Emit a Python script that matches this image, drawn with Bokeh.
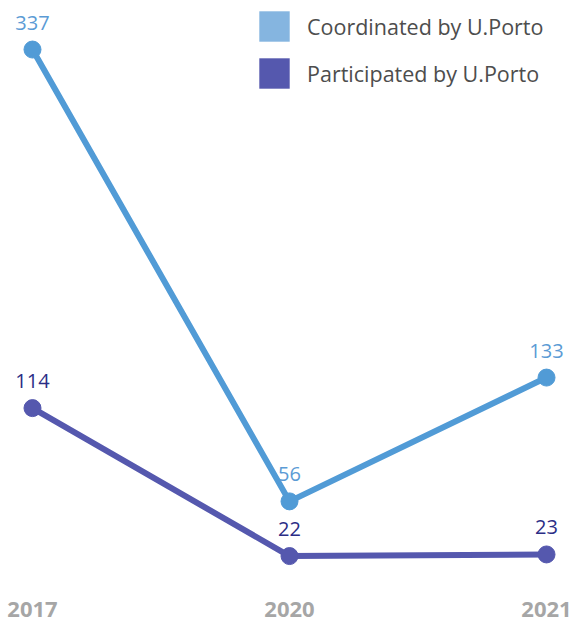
from bokeh.plotting import figure
from bokeh.models import ColumnDataSource, Range1d, FixedTicker, Legend, LegendItem
from bokeh.core.properties import value
from bokeh.embed import file_html
from bokeh.resources import INLINE

years = ["2017", "2020", "2021"]
coordinated = [337, 56, 133]
participated = [114, 22, 23]
series_names = ["Coordinated by U.Porto", "Participated by U.Porto"]

line_colors = ["#519bd6", "#5558ae"]
legend_colors = ["#85b5e0", "#5558ae"]
label_colors = ["#5b9bd5", "#2b2d86"]

FONT = "Open Sans"

xs = list(range(len(years)))

p = figure(width=573, height=625, output_backend="svg", toolbar_location=None,
           x_range=Range1d(-0.1245, 2.105), y_range=Range1d(1.2, 367.5),
           min_border_left=0, min_border_right=0, min_border_top=0, min_border_bottom=36)
p.outline_line_color = None
p.grid.visible = False
p.yaxis.visible = False
p.background_fill_color = "white"
p.border_fill_color = "white"

xa = p.xaxis[0]
xa.ticker = FixedTicker(ticks=xs)
xa.major_label_overrides = {i: y for i, y in enumerate(years)}
xa.axis_line_color = None
xa.major_tick_line_color = None
xa.minor_tick_line_color = None
xa.major_tick_out = 0
xa.major_tick_in = 0
xa.major_label_standoff = 12
xa.major_label_text_font = FONT
xa.major_label_text_font_style = "bold"
xa.major_label_text_font_size = "22px"
xa.major_label_text_color = "#a6a6a6"

items = []
nan = float("nan")
for vals, lc, gc, tc, name in zip([coordinated, participated], line_colors, legend_colors, label_colors, series_names):
    src = ColumnDataSource(dict(x=xs, y=vals, t=[str(v) for v in vals]))
    p.line("x", "y", source=src, line_color=lc, line_width=6)
    p.scatter("x", "y", source=src, size=17, fill_color=lc, line_color=lc)
    p.text("x", "y", text="t", source=src, text_align="center", text_baseline="alphabetic",
           y_offset=-27, text_font=value(FONT), text_font_size="20px", text_color=tc)
    q = p.quad(left=[nan], right=[nan], top=[nan], bottom=[nan], fill_color=gc, line_color=None)
    items.append(LegendItem(label=name, renderers=[q]))

legend = Legend(items=items, location=(255, 497), orientation="vertical",
                glyph_width=38, glyph_height=38, label_standoff=14, spacing=9,
                padding=0, margin=0, border_line_color=None, background_fill_alpha=0,
                label_text_font=FONT, label_text_font_size="21.5px", label_text_color="#4d4d4d")
p.add_layout(legend)

open("out.html", "w").write(file_html(p, INLINE))
